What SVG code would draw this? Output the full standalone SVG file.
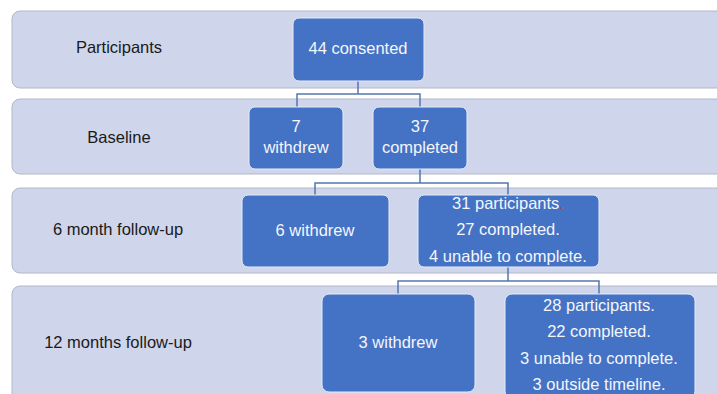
<svg xmlns="http://www.w3.org/2000/svg" width="717" height="394" viewBox="0 0 717 394">
<style>
.band{fill:#cfd5ea;stroke:#b3b8c6;stroke-width:1}
.node{fill:#4472c4;stroke:#e8ecf6;stroke-width:1}
.lbl{font-family:"Liberation Sans",Arial,sans-serif;font-size:16.5px;fill:#1a1a1a;text-anchor:middle}
.nt{font-family:"Liberation Sans",Arial,sans-serif;font-size:16.5px;fill:#f4f6fb;text-anchor:middle}
.conn{fill:none;stroke:#5676b0;stroke-width:1.5}
</style>
<rect width="717" height="394" fill="#ffffff"/>
<g id="bands">
<rect class="band" x="12" y="11" width="730" height="77" rx="8"/>
<rect class="band" x="12" y="99" width="730" height="75" rx="8"/>
<rect class="band" x="12" y="188" width="730" height="85" rx="8"/>
<rect class="band" x="12" y="286" width="730" height="130" rx="8"/>
</g>
<g id="labels">
<text class="lbl" x="119" y="53">Participants</text>
<text class="lbl" x="119" y="143">Baseline</text>
<text class="lbl" x="118" y="235">6 month follow-up</text>
<text class="lbl" x="118" y="348">12 months follow-up</text>
</g>
<g id="connectors">
<path class="conn" d="M358 80 V94 M297 107 V94 H420 V107"/>
<path class="conn" d="M420 169 V183 M315 195 V183 H508 V195"/>
<path class="conn" d="M508 267 V281 M398 294 V281 H599 V294"/>
</g>
<g id="n-consented">
<rect class="node" x="293" y="18" width="131" height="63" rx="6"/>
<text class="nt" x="358" y="54">44 consented</text>
</g>
<g id="n-withdrew7">
<rect class="node" x="249" y="107" width="94" height="62" rx="6"/>
<text class="nt" x="296" y="132">7</text>
<text class="nt" x="296" y="153">withdrew</text>
</g>
<g id="n-completed37">
<rect class="node" x="373" y="107" width="94" height="62" rx="6"/>
<text class="nt" x="420" y="132">37</text>
<text class="nt" x="420" y="153">completed</text>
</g>
<g id="n-withdrew6">
<rect class="node" x="242" y="195" width="147" height="72" rx="6"/>
<text class="nt" x="315" y="236">6 withdrew</text>
</g>
<g id="n-6m">
<rect class="node" x="418" y="195" width="181" height="72" rx="6"/>
<text class="nt" x="508" y="209">31 participants<tspan fill="#e03030">.</tspan></text>
<text class="nt" x="508" y="235">27 completed.</text>
<text class="nt" x="508" y="262">4 unable to complete.</text>
</g>
<g id="n-withdrew3">
<rect class="node" x="322" y="294" width="153" height="98" rx="7"/>
<text class="nt" x="398" y="348">3 withdrew</text>
</g>
<g id="n-12m">
<rect class="node" x="505" y="294" width="190" height="104" rx="7"/>
<text class="nt" x="599" y="311">28 participants.</text>
<text class="nt" x="599" y="337">22 completed.</text>
<text class="nt" x="599" y="364">3 unable to complete.</text>
<text class="nt" x="599" y="390">3 outside timeline.</text>
</g>
</svg>
